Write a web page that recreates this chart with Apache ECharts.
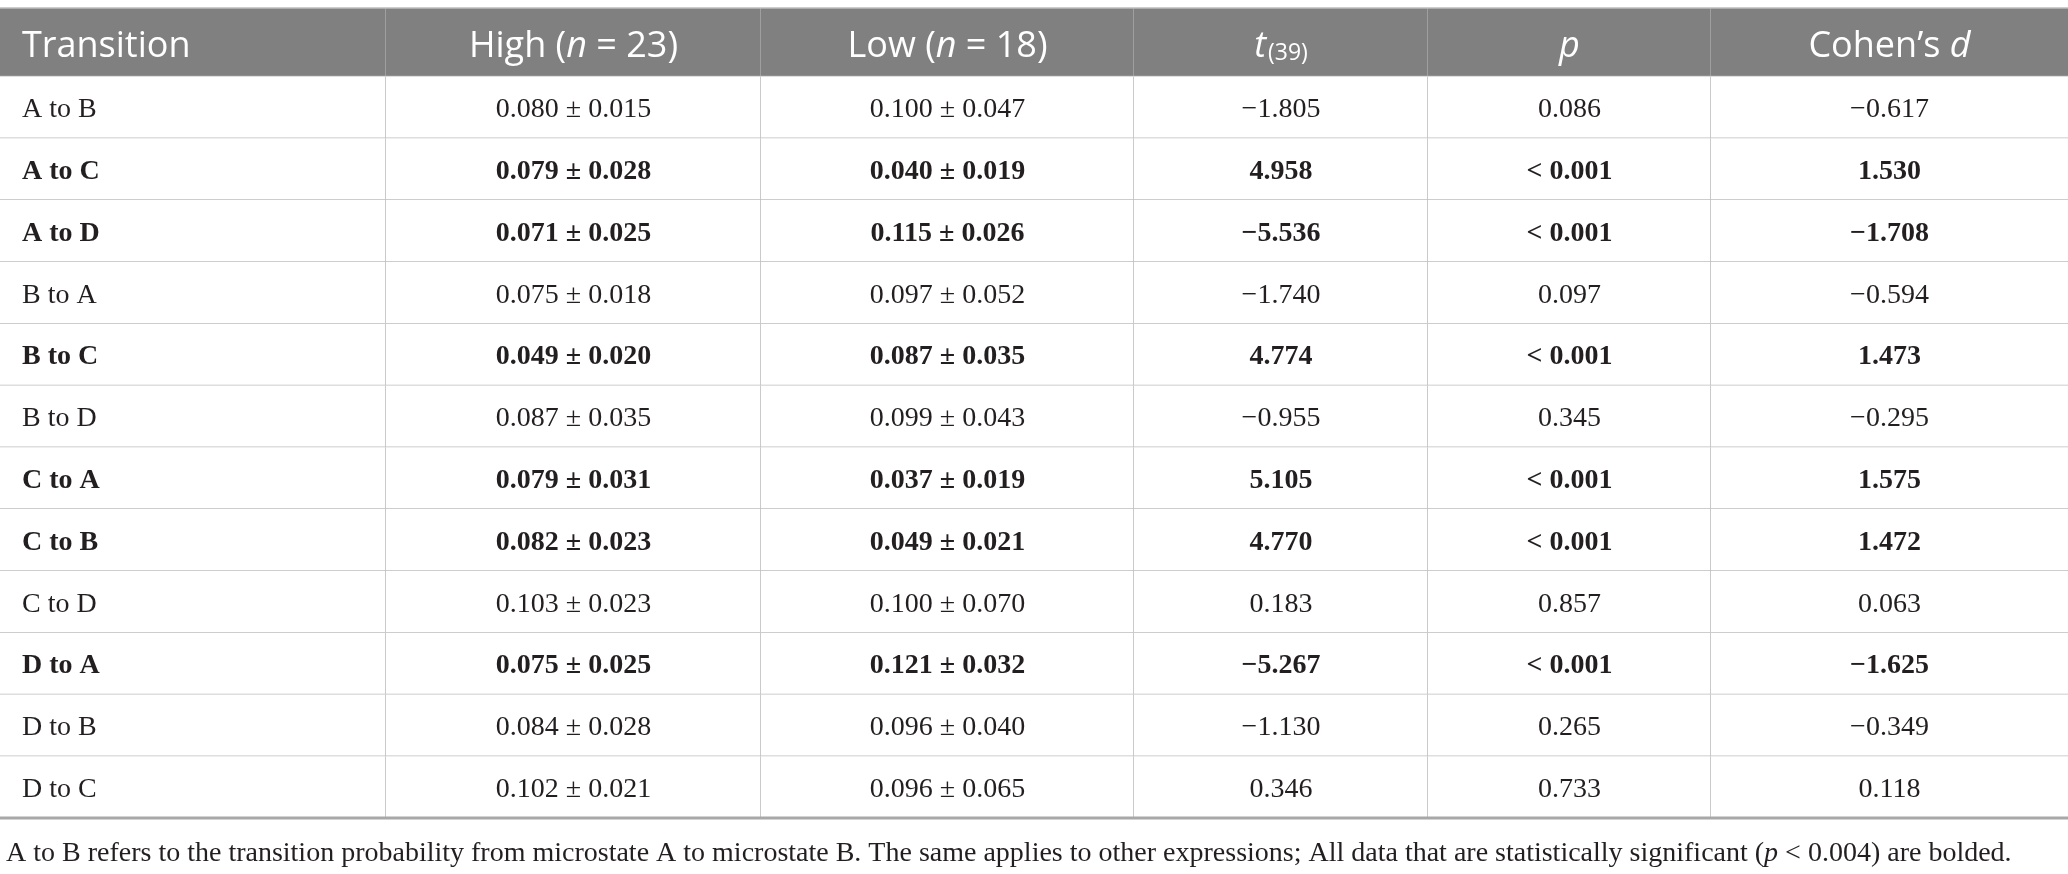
<!DOCTYPE html>
<html>
<head>
<meta charset="utf-8">
<script src="https://cdn.jsdelivr.net/npm/echarts@6/dist/echarts.min.js"></script>
<style>
  html, body { margin: 0; padding: 0; background: #fff; }
  #main { width: 2068px; height: 874px; }
</style>
</head>
<body>
<div id="main"></div>
<script>
// table data
var transitions = ['A to B', 'A to C', 'A to D', 'B to A', 'B to C', 'B to D',
  'C to A', 'C to B', 'C to D', 'D to A', 'D to B', 'D to C']
var highMean = [0.080, 0.079, 0.071, 0.075, 0.049, 0.087, 0.079, 0.082, 0.103, 0.075, 0.084, 0.102]
var highSd = [0.015, 0.028, 0.025, 0.018, 0.020, 0.035, 0.031, 0.023, 0.023, 0.025, 0.028, 0.021]
var lowMean = [0.100, 0.040, 0.115, 0.097, 0.087, 0.099, 0.037, 0.049, 0.100, 0.121, 0.096, 0.096]
var lowSd = [0.047, 0.019, 0.026, 0.052, 0.035, 0.043, 0.019, 0.021, 0.070, 0.032, 0.040, 0.065]
var tValues = [-1.805, 4.958, -5.536, -1.740, 4.774, -0.955, 5.105, 4.770, 0.183, -5.267, -1.130, 0.346]
var pValues = ['0.086', '< 0.001', '< 0.001', '0.097', '< 0.001', '0.345',
  '< 0.001', '< 0.001', '0.857', '< 0.001', '0.265', '0.733']
var cohensD = [-0.617, 1.530, -1.708, -0.594, 1.473, -0.295, 1.575, 1.472, 0.063, -1.625, -0.349, 0.118]
var headers = ['Transition', 'High ({i|n} = 23)', 'Low ({i|n} = 18)', '{i|t}{sub|(39)}', '{i|p}', 'Cohen’s {i|d}']
var note = 'A to B refers to the transition probability from microstate A to microstate B. The same applies to other expressions; All data that are statistically significant ({ni|p} < 0.004) are bolded.'

// layout (pixels)
var colEdges = [0, 386, 761, 1134, 1428, 1711, 2068]
var headerH = 68.5
var rowH = 61.8

var fmt = function (v) {
  var s = Math.abs(v).toFixed(3)
  return v < 0 ? '\u2212' + s : s
}

var cells = []
headers.forEach(function (h, c) {
  cells.push({ c: c, r: -1, text: h, bold: false })
})
transitions.forEach(function (name, r) {
  var bold = pValues[r].indexOf('<') === 0
  var row = [
    name,
    fmt(highMean[r]) + ' ± ' + fmt(highSd[r]),
    fmt(lowMean[r]) + ' ± ' + fmt(lowSd[r]),
    fmt(tValues[r]),
    pValues[r],
    fmt(cohensD[r])
  ]
  row.forEach(function (t, c) {
    cells.push({ c: c, r: r, text: t, bold: bold })
  })
})

var data = cells.map(function (d) {
  var y0 = d.r < 0 ? 0 : headerH + d.r * rowH
  var y1 = d.r < 0 ? headerH : headerH + (d.r + 1) * rowH
  return [colEdges[d.c], y0, colEdges[d.c + 1], y1]
})

var chart = echarts.init(document.getElementById('main'))

chart.setOption({
  animation: false,
  title: {
    text: note,
    left: 1,
    top: 835,
    textStyle: {
      fontFamily: 'Liberation Serif',
      fontSize: 28,
      fontWeight: 'normal',
      color: '#231f20',
      rich: {
        ni: { fontFamily: 'Liberation Serif', fontSize: 28, fontStyle: 'italic', color: '#231f20' }
      }
    }
  },
  grid: { left: 0, right: 0, top: 8, bottom: 56 },
  xAxis: { type: 'value', min: 0, max: 2068, show: false },
  yAxis: { type: 'value', min: 0, max: 810, inverse: true, show: false },
  series: [{
    type: 'custom',
    data: data,
    encode: { x: [0, 2], y: [1, 3] },
    renderItem: function (params, api) {
      var d = cells[params.dataIndex]
      var p0 = api.coord([api.value(0), api.value(1)])
      var p1 = api.coord([api.value(2), api.value(3)])
      var isHead = d.r < 0
      var last = d.r === transitions.length - 1
      var children = [{
        type: 'rect',
        shape: { x: p0[0], y: p0[1], width: p1[0] - p0[0], height: p1[1] - p0[1] },
        style: { fill: isHead ? '#7f807f' : '#fff' }
      }]
      if (d.c < colEdges.length - 2) {
        children.push({
          type: 'line',
          shape: { x1: p1[0], y1: p0[1], x2: p1[0], y2: p1[1] },
          style: { stroke: isHead ? '#a9aaa9' : '#b9b9b9', lineWidth: 1.5 }
        })
      }
      children.push({
        type: 'line',
        shape: { x1: p0[0], y1: p1[1], x2: p1[0], y2: p1[1] },
        style: { stroke: last ? '#a8a8a8' : '#bdbdbd', lineWidth: last ? 3 : 1.5 }
      })
      if (isHead) {
        children.push({
          type: 'line',
          shape: { x1: p0[0], y1: p0[1], x2: p1[0], y2: p0[1] },
          style: { stroke: '#bdbdbd', lineWidth: 1.5 }
        })
      }
      var left = d.c === 0
      children.push({
        type: 'text',
        x: left ? p0[0] + 22 : (p0[0] + p1[0]) / 2,
        y: (p0[1] + p1[1]) / 2 + (isHead ? 4 : 2.5),
        style: isHead ? {
          text: d.text,
          fill: '#fff',
          font: '36px "Open Sans"',
          align: left ? 'left' : 'center',
          verticalAlign: 'middle',
          rich: {
            i: { fontFamily: 'Open Sans', fontSize: 36, fontStyle: 'italic', fill: '#fff' },
            sub: { fontFamily: 'Open Sans', fontSize: 23, fill: '#fff', padding: [15, 0, 0, 2] }
          }
        } : {
          text: d.text,
          fill: '#231f20',
          font: (d.bold ? 'bold ' : '') + '28px "Liberation Serif"',
          align: left ? 'left' : 'center',
          verticalAlign: 'middle'
        }
      })
      return { type: 'group', children: children }
    }
  }]
})
</script>
</body>
</html>
